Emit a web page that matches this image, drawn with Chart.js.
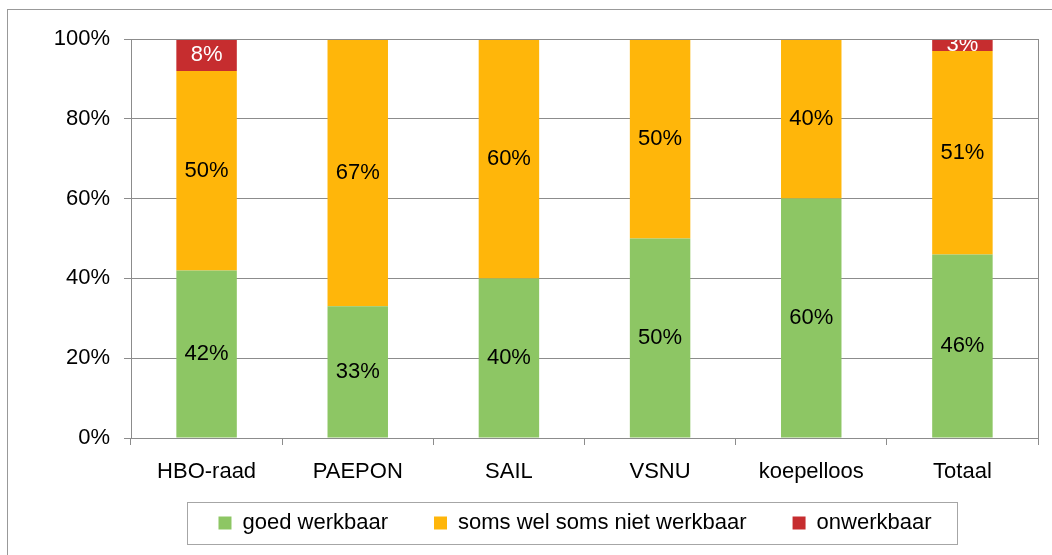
<!DOCTYPE html>
<html>
<head>
<meta charset="utf-8">
<script src="https://cdn.jsdelivr.net/npm/chart.js@4/dist/chart.umd.min.js"></script>
<style>
  html, body { margin: 0; padding: 0; background: #fff; overflow: hidden; }
  #wrap { width: 1052px; height: 555px; }
</style>
</head>
<body>
<div id="wrap"><canvas id="chart" width="1052" height="555"></canvas></div>
<script>
// categorieën en waarden (percentages)
const categories = ['HBO-raad', 'PAEPON', 'SAIL', 'VSNU', 'koepelloos', 'Totaal'];
const goedWerkbaar = [42, 33, 40, 50, 60, 46];
const somsWerkbaar = [50, 67, 60, 50, 40, 51];
const onwerkbaar = [8, 0, 0, 0, 0, 3];
const seriesNames = ['goed werkbaar', 'soms wel soms niet werkbaar', 'onwerkbaar'];
const yTicks = [0, 20, 40, 60, 80, 100];

const FONT = 'Liberation Sans, Arial, sans-serif';
const FONT_SIZE = 22;
const GRAY = '#8c8c8c';

// percentages midden in elk segment
const barLabels = {
  id: 'barLabels',
  afterDatasetsDraw(chart) {
    const ctx = chart.ctx;
    ctx.save();
    ctx.font = FONT_SIZE + 'px ' + FONT;
    ctx.textAlign = 'center';
    ctx.textBaseline = 'middle';
    chart.data.datasets.forEach((ds, i) => {
      const meta = chart.getDatasetMeta(i);
      meta.data.forEach((bar, j) => {
        const v = ds.data[j];
        if (!v) return;
        const p = bar.getProps(['x', 'y', 'base'], true);
        ctx.fillStyle = i === 2 ? '#ffffff' : '#000000';
        ctx.fillText(v + '%', p.x, (p.y + p.base) / 2);
      });
    });
    ctx.restore();
  }
};

// legenda iets naar rechts, en x-as labels niet afknippen
const fixLayout = {
  id: 'fixLayout',
  afterLayout(chart) {
    chart.legend.left += 56;
    chart.legend.right += 56;
    const x = chart.scales.x;
    x.bottom = x.top + 65;
    x.height = 65;
  }
};

// kaders: buitenrand, plotgebied en legenda
const frames = {
  id: 'frames',
  afterDraw(chart) {
    const ctx = chart.ctx;
    const a = chart.chartArea;
    ctx.save();
    ctx.lineWidth = 1;
    ctx.strokeStyle = GRAY;
    ctx.strokeRect(Math.round(a.left) + 0.5, Math.round(a.top) + 0.5,
      Math.round(a.right - a.left), Math.round(a.bottom - a.top));
    ctx.strokeStyle = '#999';
    ctx.strokeRect(7.5, 9.5, 1200, 700);
    ctx.strokeStyle = '#a6a6a6';
    ctx.strokeRect(187.5, 502.5, 770, 42);
    ctx.restore();
  }
};

new Chart(document.getElementById('chart'), {
  type: 'bar',
  data: {
    labels: categories,
    datasets: [
      { label: seriesNames[0], data: goedWerkbaar, backgroundColor: '#8dc664' },
      { label: seriesNames[1], data: somsWerkbaar, backgroundColor: '#ffb60a' },
      { label: seriesNames[2], data: onwerkbaar, backgroundColor: '#c62d2f' }
    ]
  },
  options: {
    responsive: false,
    animation: false,
    devicePixelRatio: 1,
    layout: { padding: { left: 0, top: 39, right: 14, bottom: 11 } },
    datasets: { bar: { categoryPercentage: 1, barPercentage: 0.4 } },
    plugins: {
      tooltip: { enabled: false },
      legend: {
        position: 'bottom',
        labels: {
          font: { family: FONT, size: FONT_SIZE },
          color: '#000',
          boxWidth: 13,
          boxHeight: 13,
          padding: 46,
          generateLabels(chart) {
            return chart.data.datasets.map((ds, i) => ({
              text: ds.label,
              fillStyle: ds.backgroundColor,
              strokeStyle: ds.backgroundColor,
              lineWidth: 0,
              datasetIndex: i
            }));
          }
        }
      }
    },
    scales: {
      x: {
        stacked: true,
        grid: { drawOnChartArea: false, drawTicks: true, tickLength: 7, color: GRAY, offset: true },
        border: { color: GRAY },
        ticks: { font: { family: FONT, size: FONT_SIZE }, color: '#000', padding: 14 },
        afterFit(scale) { scale.height = 28; }
      },
      y: {
        stacked: true,
        min: 0,
        max: 100,
        afterBuildTicks(scale) { scale.ticks = yTicks.map(v => ({ value: v })); },
        grid: { color: GRAY, tickLength: 7 },
        border: { color: GRAY },
        ticks: {
          font: { family: FONT, size: FONT_SIZE },
          color: '#000',
          padding: 14,
          callback: v => v + '%'
        },
        afterFit(scale) { scale.width = 131; }
      }
    }
  },
  plugins: [barLabels, fixLayout, frames]
});
</script>
</body>
</html>
